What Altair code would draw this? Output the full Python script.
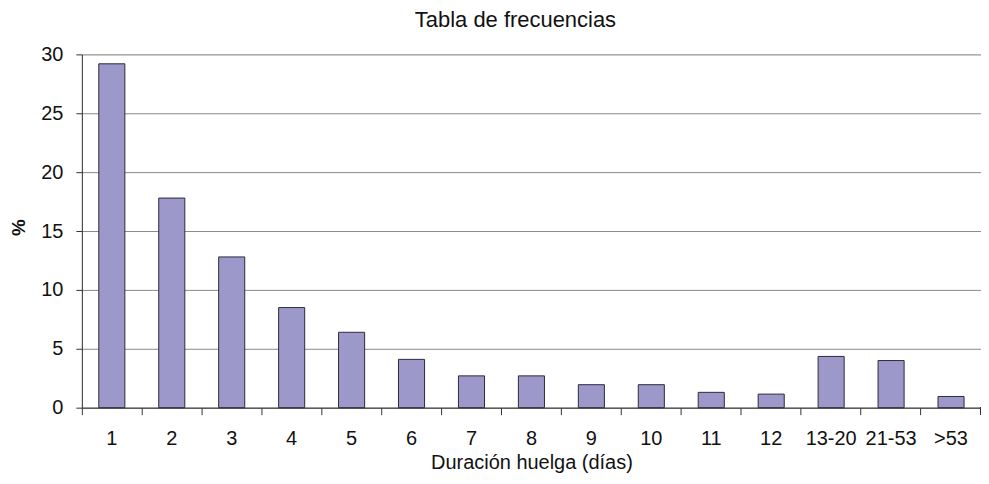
import altair as alt
import pandas as pd

categories = ["1", "2", "3", "4", "5", "6", "7", "8", "9", "10", "11", "12", "13-20", "21-53", ">53"]
percent = [29.2, 17.8, 12.8, 8.5, 6.4, 4.1, 2.7, 2.7, 1.95, 1.95, 1.3, 1.15, 4.35, 4.0, 0.95]

df = pd.DataFrame({"cat": categories, "pct": percent})

FONT = "Liberation Sans"

bars = alt.Chart(df).mark_bar(
    color="#9c98c9", stroke="#2b2b3a", strokeWidth=1,
    width=alt.RelativeBandSize(0.435)
).encode(
    x=alt.X("cat:N", sort=categories,
            scale=alt.Scale(paddingInner=0, paddingOuter=0),
            axis=alt.Axis(title="Duración huelga (días)", labelAngle=0,
                          bandPosition=0, tickSize=7,
                          labelPadding=14, labelFontSize=20, labelFont=FONT,
                          labelColor="#111111", domainColor="#333333",
                          tickColor="#333333", titleFontSize=20, titleFont=FONT,
                          titleFontWeight="normal", titleColor="#111111",
                          titlePadding=4, grid=False)),
    y=alt.Y("pct:Q", scale=alt.Scale(domain=[0, 30], nice=False),
            axis=alt.Axis(title="%", values=[0, 5, 10, 15, 20, 25, 30],
                          tickSize=6, labelPadding=13, labelFontSize=20,
                          labelFont=FONT, labelColor="#111111",
                          domainColor="#333333", tickColor="#333333",
                          gridColor="#8a8a8a", gridWidth=1,
                          titleFontSize=19, titleFont=FONT, titleFontWeight="bold",
                          titleColor="#111111", titleX=-63, titleY=173,
                          titleBaseline="middle", titleAlign="center")),
)

end_tick = alt.Chart(df).mark_rule(color="#333333", strokeWidth=1).encode(
    x=alt.value(901), y=alt.value(354), y2=alt.value(361)
)

chart = alt.layer(bars, end_tick).properties(
    width=901, height=354,
    title=alt.TitleParams("Tabla de frecuencias", fontSize=22, font=FONT,
                          fontWeight="normal", color="#111111", offset=12, dx=-16),
    autosize=alt.AutoSizeParams(type="none"),
    padding={"left": 74, "top": 46, "right": 0, "bottom": 68},
).configure_view(stroke="#8a8a8a", strokeWidth=1).configure(background="white")

chart.save("out.html", embed_options={"renderer": "svg", "actions": False})
